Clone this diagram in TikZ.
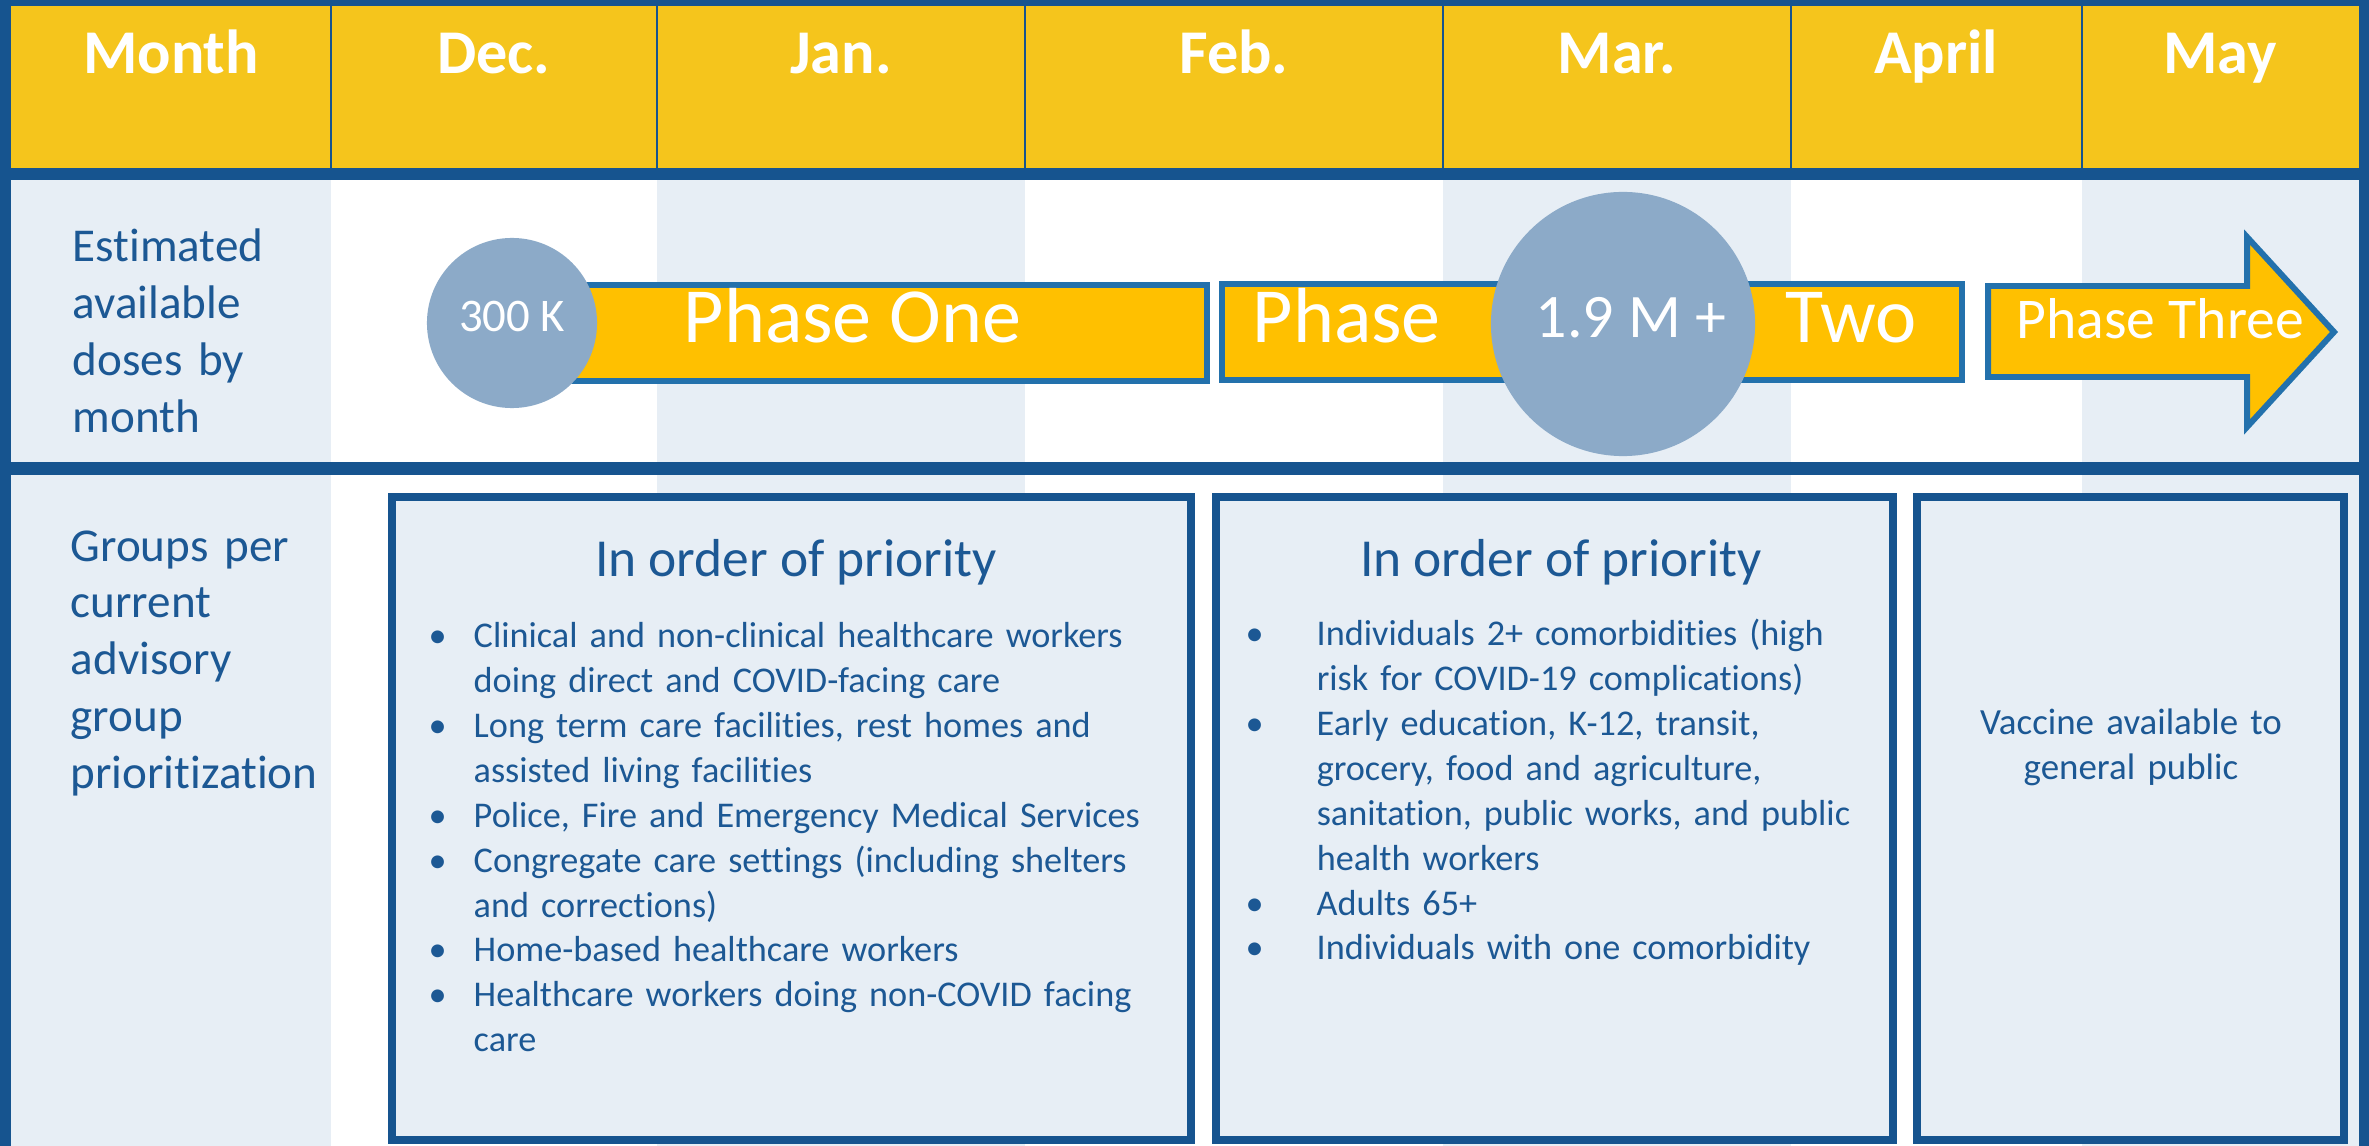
\documentclass[tikz,border=0pt]{standalone}
\usepackage{fontspec}
\setmainfont{Carlito}[Ligatures=NoCommon]
\usepackage{tikz}
\usetikzlibrary{positioning, shadows}

\definecolor{frameblue}{RGB}{22,84,143}
\definecolor{textblue}{RGB}{28,88,148}
\definecolor{headyellow}{RGB}{245,197,28}
\definecolor{paleblue}{RGB}{231,238,245}
\definecolor{bargold}{RGB}{255,192,0}
\definecolor{barblue}{RGB}{35,113,172}
\definecolor{dosegrey}{RGB}{140,170,200}

\newcommand{\bul}[1]{\makebox[#1][l]{\textbullet}}
\newcommand{\ind}[1]{\hspace*{#1}}

\begin{document}
\begin{tikzpicture}[x=0.01cm, y=-0.01cm,
	month/.style={anchor=base, text=white, inner sep=0pt, font=\fontsize{17.7pt}{21pt}\selectfont\bfseries},
	rowlabel/.style={anchor=base west, text=textblue, align=left, text width=3cm, inner sep=0pt, font=\fontsize{13.4pt}{16.2pt}\selectfont},
	phasebar/.style={draw=barblue, fill=bargold, line width=1.7pt},
	dose/.style={circle, fill=dosegrey, inner sep=0pt},
	dosetext/.style={anchor=base, text=white, inner sep=0pt, font=\fontsize{#1}{#1}\selectfont},
	phasetext/.style={anchor=base west, text=white, inner sep=0pt, font=\fontsize{#1}{#1}\selectfont},
	phasetext/.default=22.2pt,
	groupbox/.style={draw=frameblue, fill=paleblue, line width=2.3pt, drop shadow={shadow xshift=1.2pt, shadow yshift=-1.2pt, fill=black, opacity=0.3}},
	boxtitle/.style={anchor=base, text=textblue, inner sep=0pt, font=\fontsize{15.2pt}{18pt}\selectfont},
	boxlist/.style={anchor=base west, text=textblue, align=left, text width=7.6cm, inner sep=0pt, font=\fontsize{10.3pt}{12.75pt}\selectfont}]

	\useasboundingbox (0,0) rectangle (2369,1146);

	% frame, header and column shading
	\fill[frameblue] (0,0) rectangle (2369,1146);
	\fill[headyellow] (11,6) rectangle (2359,168);
	\foreach \xa/\xb/\c in {11/331/paleblue, 331/657/white, 657/1025/paleblue, 1025/1443/white, 1443/1791/paleblue, 1791/2082/white, 2082/2359/paleblue}{
		\fill[\c] (\xa,180) rectangle (\xb,462);
		\fill[\c] (\xa,475) rectangle (\xb,1146);
	}
	\foreach \x in {331,657,1025,1443,1791,2082}
		\draw[frameblue, line width=0.7pt] (\x,6) -- (\x,168);

	% months
	\node[month] (month) at (171,74) {Month};
	\node[month] (dec) at (494,74) {Dec.};
	\node[month] (jan) at (841,74) {Jan.};
	\node[month] (feb) at (1234,74) {Feb.};
	\node[month] (mar) at (1617,74) {Mar.};
	\node[month] (apr) at (1936,74) {April};
	\node[month] (may) at (2220,74) {May};

	% row labels
	\node[rowlabel] (doses) at (72,262) {Estimated\\available\\doses by\\month};
	\node[rowlabel] (groups) at (70,561) {Groups per\\current\\advisory\\group\\prioritization};

	% phases
	\draw[phasebar] (512,285) rectangle (1207,381);
	\draw[phasebar] (1222,284) rectangle (1962,380);
	\draw[phasebar] (1988,286) -- (2247,286) -- (2247,237) -- (2334,332) -- (2247,427) -- (2247,377) -- (1988,377) -- cycle;

	\node[dose, minimum size=1.7cm] (c300) at (512,323) {};
	\node[dose, minimum size=2.64cm] (c19) at (1623,324) {};

	\node[phasetext] (p1) at (683,343) {Phase One};
	\node[phasetext] (p2a) at (1252,343) {Phase};
	\node[phasetext] (p2b) at (1785,343) {Two};
	\node[phasetext=16.4pt] (p3) at (2016,339) {Phase Three};
	\node[dosetext=13.3pt] (k300) at (512,332) {300 K};
	\node[dosetext=17.6pt] (m19) at (1631,338) {1.9 M +};

	% groups
	\node[groupbox, minimum width=7.99cm, minimum height=6.43cm] (box1) at (791.5,818.5) {};
	\node[groupbox, minimum width=6.77cm, minimum height=6.43cm] (box2) at (1554.5,818.5) {};
	\node[groupbox, minimum width=4.27cm, minimum height=6.43cm] (box3) at (2130.5,818.5) {};

	\node[boxtitle] (t1) at (796,577) {In order of priority};
	\node[boxtitle] (t2) at (1561,577) {In order of priority};

	\node[boxlist] (list1) at (428,648) {\bul{0.45cm}Clinical and non-clinical healthcare workers\\
		\ind{0.45cm}doing direct and COVID-facing care\\
		\bul{0.45cm}Long term care facilities, rest homes and\\
		\ind{0.45cm}assisted living facilities\\
		\bul{0.45cm}Police, Fire and Emergency Medical Services\\
		\bul{0.45cm}Congregate care settings (including shelters\\
		\ind{0.45cm}and corrections)\\
		\bul{0.45cm}Home-based healthcare workers\\
		\bul{0.45cm}Healthcare workers doing non-COVID facing\\
		\ind{0.45cm}care};
	\node[boxlist] (list2) at (1245,646) {\bul{0.71cm}Individuals 2+ comorbidities (high\\
		\ind{0.71cm}risk for COVID-19 complications)\\
		\bul{0.71cm}Early education, K-12, transit,\\
		\ind{0.71cm}grocery, food and agriculture,\\
		\ind{0.71cm}sanitation, public works, and public\\
		\ind{0.71cm}health workers\\
		\bul{0.71cm}Adults 65+\\
		\bul{0.71cm}Individuals with one comorbidity};
	\node[boxlist, align=center, anchor=base, text width=4cm, font=\fontsize{10.5pt}{12.75pt}\selectfont] (public) at (2131,735) {Vaccine available to\\general public};
\end{tikzpicture}
\end{document}
